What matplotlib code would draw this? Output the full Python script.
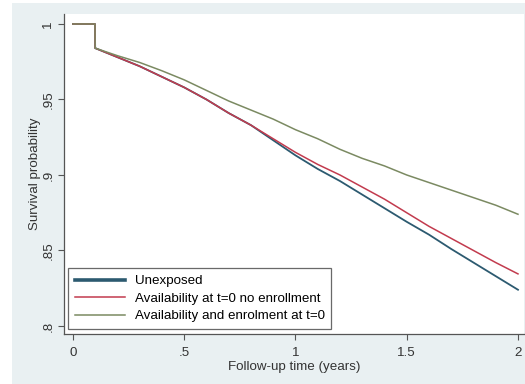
import matplotlib
matplotlib.use("Agg")
import matplotlib.pyplot as plt
from matplotlib.patches import Rectangle

# Follow-up time (years) and Kaplan-Meier survival estimates
time = [0.0, 0.099, 0.10, 0.2, 0.3, 0.4, 0.5, 0.6, 0.7, 0.8, 0.9, 1.0,
        1.1, 1.2, 1.3, 1.4, 1.5, 1.6, 1.7, 1.8, 1.9, 2.0]
unexposed = [1.0, 1.0, 0.984, 0.978, 0.972, 0.965, 0.958, 0.950, 0.941, 0.933,
             0.923, 0.913, 0.904, 0.896, 0.887, 0.878, 0.869, 0.8605, 0.851,
             0.842, 0.833, 0.824]
avail_no_enrol = [1.0, 1.0, 0.984, 0.978, 0.972, 0.965, 0.958, 0.950, 0.941, 0.933,
                  0.924, 0.915, 0.907, 0.900, 0.892, 0.884, 0.875, 0.866, 0.858,
                  0.850, 0.842, 0.8345]
avail_enrol = [1.0, 1.0, 0.984, 0.979, 0.9745, 0.969, 0.963, 0.956, 0.949, 0.943,
               0.937, 0.930, 0.924, 0.917, 0.911, 0.906, 0.900, 0.895, 0.890,
               0.885, 0.880, 0.874]

labels = ["Unexposed",
          "Availability at t=0 no enrollment",
          "Availability and enrolment at t=0"]
xticks = [0, 0.5, 1, 1.5, 2]
xticklabels = ["0", ".5", "1", "1.5", "2"]
yticks = [0.8, 0.85, 0.9, 0.95, 1.0]
yticklabels = [".8", ".85", ".9", ".95", "1"]

plt.rcParams["font.family"] = ["Liberation Sans", "DejaVu Sans"]
FS = 9.6

W, H = 525, 384
fig = plt.figure(figsize=(W / 100, H / 100), dpi=100)
fig.patch.set_facecolor("white")
fig.add_artist(Rectangle((12 / W, 0), 1 - 12 / W, 1 - 3 / H,
                         transform=fig.transFigure, facecolor="#e9f0f2",
                         edgecolor="none", zorder=-10))

ax = fig.add_axes([64 / W, 1 - 334 / H, (524 - 64) / W, (334 - 14) / H])
ax.set_zorder(1)
ax.set_facecolor("white")

ax.plot(time, unexposed, color="#2c5a70", lw=1.3, label=labels[0])
ax.plot(time, avail_no_enrol, color="#c23b4e", lw=1.1, label=labels[1])
ax.plot(time, avail_enrol, color="#7b8a62", lw=1.1, label=labels[2])

ax.set_xlim(-0.04, 2.027)
ax.set_ylim(0.7947, 1.0066)
ax.set_xticks(xticks)
ax.set_xticklabels(xticklabels)
ax.set_yticks(yticks)
ax.set_yticklabels(yticklabels, rotation=90, va="center")

for s in ["top", "right"]:
    ax.spines[s].set_visible(False)
for s in ["left", "bottom"]:
    ax.spines[s].set_color("#555555")
    ax.spines[s].set_linewidth(0.9)
ax.tick_params(axis="both", colors="#555555", labelcolor="#333333",
               labelsize=FS, length=4, width=0.8)
ax.tick_params(axis="x", pad=5)
ax.tick_params(axis="y", pad=3)

ax.set_xlabel("Follow-up time (years)", fontsize=FS, color="#333333", labelpad=2)
ax.set_ylabel("Survival probability", fontsize=FS, color="#333333", labelpad=1)

leg = ax.legend(loc="lower left", bbox_to_anchor=(0.009, 0.016),
                fontsize=FS, frameon=True, fancybox=False, borderaxespad=0,
                handlelength=3.8, handletextpad=0.7, labelspacing=0.38,
                borderpad=0.5)
leg.get_frame().set_edgecolor("#444444")
leg.get_frame().set_linewidth(0.9)
leg.get_lines()[0].set_linewidth(2.6)

fig.savefig("out.png", dpi=100)
